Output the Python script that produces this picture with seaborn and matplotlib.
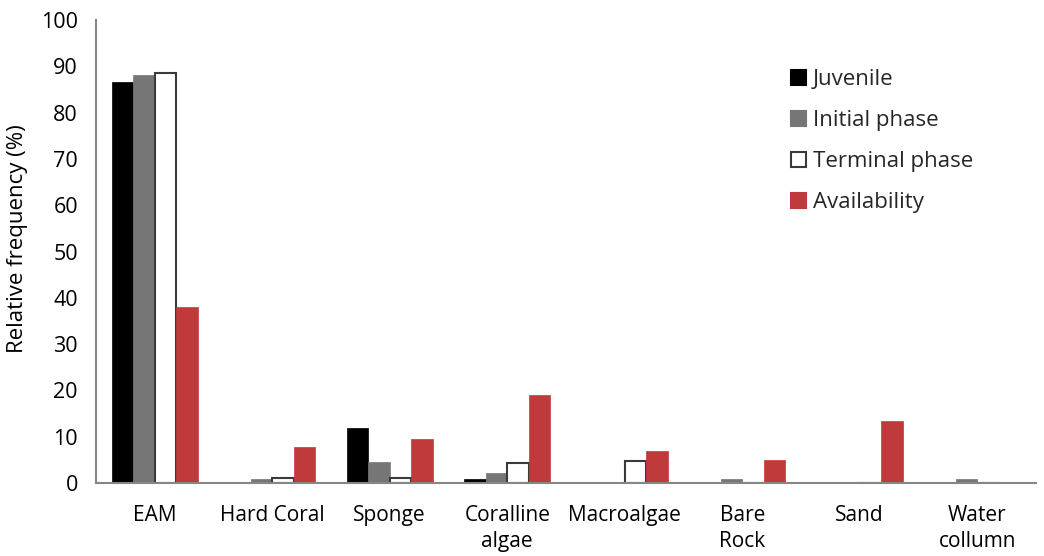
import matplotlib
matplotlib.use("Agg")
import matplotlib.pyplot as plt
import seaborn as sns
import pandas as pd
from matplotlib.ticker import FixedLocator

categories = ["EAM", "Hard Coral", "Sponge", "Coralline\nalgae", "Macroalgae",
              "Bare\nRock", "Sand", "Water\ncollumn"]
series_names = ["Juvenile", "Initial phase", "Terminal phase", "Availability"]
juvenile = [86.6, 0.0, 11.8, 0.8, 0.0, 0.0, 0.0, 0.0]
initial_phase = [88.1, 0.8, 4.6, 2.2, 0.0, 0.8, 0.0, 0.8]
terminal_phase = [88.6, 1.0, 1.0, 4.3, 4.7, 0.0, 0.0, 0.0]
availability = [38.0, 7.8, 9.4, 18.9, 7.0, 5.0, 13.3, 0.0]
y_ticks = [0, 10, 20, 30, 40, 50, 60, 70, 80, 90, 100]

fill_colors = ["#000000", "#767676", "#FFFFFF", "#C0393B"]
edge_colors = ["#000000", "#767676", "#3A3A3A", "#C0393B"]

rows = []
for name, vals in zip(series_names, [juvenile, initial_phase, terminal_phase, availability]):
    for c, v in zip(categories, vals):
        rows.append({"Category": c, "Series": name, "Value": v})
df = pd.DataFrame(rows)

sns.set_theme(style="white")
plt.rcParams['font.family'] = ['Open Sans', 'DejaVu Sans']

fig = plt.figure(figsize=(10.44, 5.56), dpi=100)
ax = fig.add_axes([96/1044, 1 - 483/556, (1036-96)/1044, (483-20)/556])

sns.barplot(data=df, x="Category", y="Value", hue="Series", order=categories,
            hue_order=series_names, palette=fill_colors, width=0.73,
            saturation=1, ax=ax, legend=True)

for i, cont in enumerate(ax.containers):
    for p in cont.patches:
        p.set_edgecolor(edge_colors[i])
        p.set_linewidth(1.5 if i == 2 else 0.5)
        p.set_zorder(3)

ax.set_ylim(0, 100)
ax.set_xlim(-0.5, len(categories) - 0.5)
ax.set_yticks(y_ticks)
ax.set_yticklabels([str(t) for t in y_ticks], fontsize=15.5, color="#000000")
ax.set_xlabel("")
ax.set_ylabel("Relative frequency (%)", fontsize=16, color="#000000")
ax.yaxis.set_label_coords(-0.072, 0.528)
ax.tick_params(axis="x", which="major", length=0, labelsize=15, pad=16, labelcolor="#000000")
for lbl in ax.get_xticklabels():
    lbl.set_linespacing(1.3)
ax.xaxis.set_minor_locator(FixedLocator([i - 0.5 for i in range(len(categories) + 1)]))
ax.tick_params(axis="x", which="minor", length=6, width=1.5, color="#868686", direction="out")
ax.tick_params(axis="y", which="major", length=6, width=1.5, color="#868686", direction="out", pad=7)

for s in ["top", "right"]:
    ax.spines[s].set_visible(False)
for s in ["left", "bottom"]:
    ax.spines[s].set_color("#868686")
    ax.spines[s].set_linewidth(1.5)
    ax.spines[s].set_zorder(4)

leg = ax.legend(loc="upper left", bbox_to_anchor=(0.718, 0.937), frameon=False,
                fontsize=16, handlelength=0.7, handleheight=0.7, handletextpad=0.3,
                labelspacing=0.9)
for h, ec in zip(leg.legend_handles, edge_colors):
    h.set_edgecolor(ec)
    h.set_linewidth(1.5)

fig.savefig("out.png", dpi=100)
